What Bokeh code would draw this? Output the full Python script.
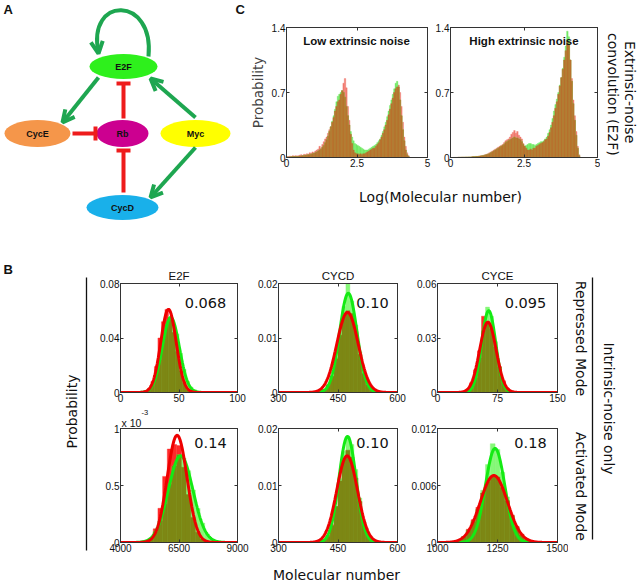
import numpy as np
from bokeh.plotting import figure
from bokeh.layouts import row, column
from bokeh.models import (Range1d, FixedTicker, Label, Arrow, OpenHead, TeeHead, ColumnDataSource, Title,
                          LinearAxis)
from bokeh.core.properties import value
from bokeh.embed import file_html
from bokeh.resources import INLINE

SC = 1.0
def S(v): return int(round(v * SC))
def F(v): return f"{v * SC:.1f}px"

ARIAL = "Liberation Sans"
VERD = "DejaVu Sans"

# ---------------- Panel A: network ----------------
node_names = ["E2F", "CycE", "Rb", "Myc", "CycD"]
node_x = [123, 37, 122, 195, 122]
node_y = [66, 133, 133, 133, 207]
node_w = [68, 66, 52, 70, 72]
node_h = [25, 27, 27, 27, 25]
node_colors = ["#2ef01c", "#f5964a", "#cc0090", "#ffff00", "#19b0ea"]
act_x0 = [98, 195, 195]; act_y0 = [77, 117, 147]
act_x1 = [62, 150, 150]; act_y1 = [122, 78, 197]
inh_x0 = [123, 72, 123]; inh_y0 = [118, 133, 192]
inh_x1 = [123, 95, 123]; inh_y1 = [83, 133, 150]
loop_pts = [148, 56, 154, -5, 86, -5, 98, 52]   # x0,y0,cx0,cy0,cx1,cy1,x1,y1
GREEN_A = "#1ea650"
RED_A = "#ee1c1c"

# ---------------- Panel C: histograms (bins of 0.05 from 0) ----------------
c_bin_start, c_bin_w = 0.0, 0.05
c_low_red = [.01,.01,.015,.01,.02,.015,.02,.015,.02,.025,
             .03,.02,.035,.03,.04,.035,.05,.045,.06,.05,
             .07,.08,.09,.12,.10,.14,.17,.20,.22,.26,
             .30,.33,.38,.43,.50,.55,.60,.62,.68,.72,
             .80,.85,.75,.55,.40,.25,.15,.08,.05,.04,
             .04,.03,.04,.03,.04,.04,.05,.06,.07,.08,
             .09,.10,.10,.12,.14,.16,.19,.22,.26,.30,
             .35,.40,.46,.52,.58,.64,.70,.74,.76,.78,
             .70,.55,.38,.22,.12,.05,.02,0,0,0,
             0,0,0,0,0,0,0,0,0,0]
c_low_green = [.005,.005,.005,.008,.01,.01,.01,.012,.01,.015,
               .015,.02,.02,.025,.025,.03,.03,.035,.04,.045,
               .05,.06,.07,.08,.09,.11,.13,.16,.19,.23,
               .28,.33,.39,.45,.52,.60,.66,.68,.70,.72,
               .70,.65,.55,.45,.35,.28,.22,.18,.15,.14,
               .13,.12,.11,.10,.09,.08,.08,.08,.09,.10,
               .11,.12,.13,.14,.16,.18,.20,.24,.28,.33,
               .38,.44,.50,.56,.62,.68,.74,.80,.82,.76,
               .62,.45,.30,.18,.08,.03,.01,0,0,0,
               0,0,0,0,0,0,0,0,0,0]
c_high_red = [0,0,.002,0,.002,.003,.002,.003,.004,.003,
              .005,.004,.006,.005,.008,.01,.008,.012,.01,.015,
              .018,.02,.025,.03,.035,.04,.05,.06,.07,.08,
              .09,.10,.11,.12,.13,.14,.16,.18,.19,.20,
              .22,.25,.27,.29,.26,.28,.24,.22,.20,.15,
              .12,.10,.08,.08,.09,.08,.10,.10,.12,.13,
              .14,.15,.16,.17,.19,.20,.23,.27,.32,.38,
              .45,.53,.60,.68,.77,.86,.95,1.05,1.15,1.25,
              1.22,1.05,.85,.62,.45,.28,.12,.03,0,0,
              0,0,0,0,0,0,0,0,0,0]
c_high_green = [0,0,0,.002,0,.002,.002,.003,.003,.004,
                .004,.005,.005,.006,.006,.008,.01,.01,.012,.013,
                .015,.018,.02,.025,.03,.035,.04,.05,.06,.07,
                .08,.09,.10,.11,.12,.13,.14,.16,.17,.18,
                .19,.20,.21,.22,.21,.21,.20,.19,.17,.14,
                .12,.13,.14,.15,.15,.14,.14,.13,.14,.15,
                .16,.17,.17,.18,.20,.22,.26,.30,.35,.42,
                .50,.57,.63,.70,.78,.86,.96,1.08,1.20,1.36,
                1.30,1.05,.82,.58,.40,.24,.10,.02,0,0,
                0,0,0,0,0,0,0,0,0,0]
c_titles = ["Low extrinsic noise", "High extrinsic noise"]
c_xticks = [0, 2.5, 5]; c_xlabels = ["0", "2.5", "5"]
c_yticks = [0, 0.7, 1.4]; c_ylabels = ["0", "0.7", "1.4"]
C_GREEN, C_RED, C_BOTH = "#72ea66", "#f07a6e", "#b9732f"

# ---------------- Panel B: histograms + normal fits ----------------
b_col_titles = ["E2F", "CYCD", "CYCE"]
b_cv = [["0.068", "0.10", "0.095"], ["0.14", "0.10", "0.18"]]

e2f_rep_bins = (20, 3)
e2f_rep_green = [0.001,0.002,0.006,0.013,0.024,0.038,0.050,0.056,0.050,0.043,0.029,0.017,0.008,0.004,0.002,0.0005]
e2f_rep_red = [0.001,0.003,0.008,0.019,0.040,0.052,0.061,0.055,0.044,0.030,0.016,0.007,0.002,0.001,0,0]
e2f_rep_fit_green = (43, 7.3, 0.055)   # mean, sd, peak
e2f_rep_fit_red = (41, 6.6, 0.061)

cycd_rep_bins = (400, 10)
cycd_rep_green = [0.0002,0.0005,0.0012,0.003,0.0065,0.0112,0.0158,0.0205,0.0168,0.0124,0.0075,0.0037,0.0014,0.0005,0.0001,0]
cycd_rep_red = [0.0002,0.0006,0.0014,0.003,0.0062,0.0105,0.0140,0.0150,0.0145,0.0112,0.0070,0.0035,0.0014,0.0005,0.0001,0]
cycd_rep_fit_green = (476, 22, 0.0182)
cycd_rep_fit_red = (474, 27, 0.0147)

cyce_rep_bins = (30, 5)
cyce_rep_green = [0,0.0005,0.0024,0.008,0.019,0.034,0.047,0.042,0.028,0.014,0.005,0.0013,0.0002,0,0]
cyce_rep_red = [0.0005,0.0018,0.0053,0.0125,0.023,0.042,0.039,0.035,0.025,0.0143,0.0065,0.0023,0.0006,0.0001,0]
cyce_rep_fit_green = (64, 8.8, 0.045)
cyce_rep_fit_red = (63, 10.3, 0.0387)

e2f_act_bins = (5000, 200)          # y in units of 1e-3
e2f_act_green = [0.015,0.04,0.095,0.19,0.34,0.51,0.67,0.77,0.74,0.63,0.46,0.30,0.17,0.075,0.03,0.011,0.003]
e2f_act_red = [0.01,0.03,0.12,0.30,0.58,0.82,0.86,0.85,0.66,0.42,0.22,0.09,0.03,0.01,0,0,0]
e2f_act_fit_green = (6570, 525, 0.76)
e2f_act_fit_red = (6420, 424, 0.94)

cycd_act_bins = (400, 10)
cycd_act_green = [0.0001,0.0004,0.0011,0.0029,0.0063,0.0112,0.016,0.0186,0.0172,0.0128,0.0078,0.0038,0.0015,0.0005,0.0001,0]
cycd_act_red = [0.0002,0.0005,0.0013,0.0031,0.0063,0.0108,0.0148,0.0162,0.0150,0.0113,0.0072,0.0036,0.0014,0.0005,0.0001,0]
cycd_act_fit_green = (474, 21.5, 0.0186)
cycd_act_fit_red = (473, 26, 0.0152)

cyce_act_bins = (1040, 20)
cyce_act_green = [0,0,0.0002,0.0006,0.0013,0.0022,0.0035,0.0055,0.0082,0.0104,0.0098,0.0074,0.0048,0.0028,0.0016,0.0008,0.0003,0.0001,0,0]
cyce_act_red = [0,0,0.0002,0.0006,0.0014,0.0024,0.0037,0.0052,0.0064,0.0070,0.0069,0.0058,0.0044,0.0029,0.0017,0.0009,0.0004,0.0001,0,0]
cyce_act_fit_green = (1240, 40.3, 0.0099)
cyce_act_fit_red = (1235, 56.6, 0.00705)

b_xr = [[(0, 100), (300, 600), (0, 150)], [(4000, 9000), (300, 600), (1000, 1500)]]
b_yr = [[(0, 0.08), (0, 0.02), (0, 0.06)], [(0, 1), (0, 0.02), (0, 0.012)]]
b_xticks = [[[0, 50, 100], [300, 450, 600], [0, 75, 150]], [[4000, 6500, 9000], [300, 450, 600], [1000, 1250, 1500]]]
b_xlabels = [[["0", "50", "100"], ["300", "450", "600"], ["0", "75", "150"]],
             [["4000", "6500", "9000"], ["300", "450", "600"], ["1000", "1250", "1500"]]]
b_yticks = [[[0, 0.04, 0.08], [0, 0.01, 0.02], [0, 0.03, 0.06]], [[0, 0.5, 1], [0, 0.01, 0.02], [0, 0.006, 0.012]]]
b_ylabels = [[["0", "0.04", "0.08"], ["0", "0.01", "0.02"], ["0", "0.03", "0.06"]],
             [["0", "0.5", "1"], ["0", "0.01", "0.02"], ["0", "0.006", "0.012"]]]
b_data = [[(e2f_rep_bins, e2f_rep_green, e2f_rep_red, e2f_rep_fit_green, e2f_rep_fit_red),
           (cycd_rep_bins, cycd_rep_green, cycd_rep_red, cycd_rep_fit_green, cycd_rep_fit_red),
           (cyce_rep_bins, cyce_rep_green, cyce_rep_red, cyce_rep_fit_green, cyce_rep_fit_red)],
          [(e2f_act_bins, e2f_act_green, e2f_act_red, e2f_act_fit_green, e2f_act_fit_red),
           (cycd_act_bins, cycd_act_green, cycd_act_red, cycd_act_fit_green, cycd_act_fit_red),
           (cyce_act_bins, cyce_act_green, cyce_act_red, cyce_act_fit_green, cyce_act_fit_red)]]
B_GREEN, B_RED, B_BOTH = "#86f878", "#ff2a2a", "#7d8714"
FIT_GREEN, FIT_RED = "#14ea14", "#ee0000"

# ---------------- helpers ----------------
def blank(box):
    x0, y0, x1, y1 = box
    p = figure(width=S(x1) - S(x0), height=S(y1) - S(y0), x_range=Range1d(x0, x1), y_range=Range1d(y1, y0),
               x_axis_type=None, y_axis_type=None, min_border=0, toolbar_location=None,
               output_backend="svg", outline_line_color=None)
    return p

def txt(p, x, y, t, size, font=VERD, style="normal", angle=0.0, align="center"):
    p.text(x=[x], y=[y], text=[t], angle=angle, text_align=align, text_baseline="middle",
           text_font=value(font), text_font_size=value(F(size)), text_font_style=style, text_color="#111")

def style_axis(ax):
    ax.major_tick_in = 3
    ax.major_tick_out = 0
    ax.minor_tick_line_color = None
    ax.axis_line_color = "#333"
    ax.major_tick_line_color = "#333"
    ax.major_label_text_font = ARIAL
    ax.major_label_text_font_size = F(10)
    ax.major_label_text_color = "#111"
    ax.major_label_standoff = 1

def subplot(box, frame, xr, yr, xt, xl, yt, yl):
    bx0, by0, bx1, by1 = box
    fx0, fy0, fx1, fy1 = frame
    p = figure(width=S(bx1) - S(bx0), height=S(by1) - S(by0), x_range=Range1d(*xr), y_range=Range1d(*yr),
               toolbar_location=None, output_backend="svg",
               min_border_left=S(fx0) - S(bx0), min_border_right=S(bx1) - S(fx1),
               min_border_top=S(fy0) - S(by0), min_border_bottom=S(by1) - S(fy1))
    p.grid.visible = False
    p.outline_line_color = "#333"
    p.xaxis.ticker = FixedTicker(ticks=xt)
    p.yaxis.ticker = FixedTicker(ticks=yt)
    p.xaxis.major_label_overrides = {t: l for t, l in zip(xt, xl)}
    p.yaxis.major_label_overrides = {t: l for t, l in zip(yt, yl)}
    for ax in p.axis:
        style_axis(ax)
    # mirrored inside ticks on the right and top edges (no labels)
    rax = LinearAxis(ticker=FixedTicker(ticks=yt), major_label_overrides={t: "" for t in yt})
    tax = LinearAxis(ticker=FixedTicker(ticks=xt), major_label_overrides={t: "" for t in xt})
    for ax in (rax, tax):
        style_axis(ax)
        ax.major_label_text_font_size = "1px"
        ax.major_label_standoff = 0
    p.add_layout(rax, "right")
    p.add_layout(tax, "above")
    return p

def to_data(frame, xr, yr, px, py):
    fx0, fy0, fx1, fy1 = frame
    x = xr[0] + (px - fx0) / (fx1 - fx0) * (xr[1] - xr[0])
    y = yr[0] + (fy1 - py) / (fy1 - fy0) * (yr[1] - yr[0])
    return x, y

def label(p, frame, xr, yr, px, py, t, size, font=VERD, style="normal", align="center"):
    x, y = to_data(frame, xr, yr, px, py)
    p.add_layout(Label(x=x, y=y, text=t, text_align=align, text_baseline="middle", text_font=font,
                       text_font_size=F(size), text_font_style=style, text_color="#111"))

def hist_layers(p, start, w, green, red, cg, cr, cb):
    n = len(green)
    left = [start + i * w for i in range(n)]
    right = [l + w for l in left]
    both = [min(g, r) for g, r in zip(green, red)]
    for top, col in ((red, cr), (green, cg), (both, cb)):
        p.quad(left=left, right=right, bottom=0, top=top, fill_color=col, line_color=col, line_width=0.4)

def fit_line(p, xr, fit, col):
    mu, sd, pk = fit
    xs = np.linspace(xr[0], xr[1], 400)
    ys = pk * np.exp(-0.5 * ((xs - mu) / sd) ** 2)
    p.line(xs, ys, line_color=col, line_width=3)

def style_title(t, size, align, standoff, offset=0):
    t.align = align
    t.offset = offset
    t.text_font = ARIAL
    t.text_font_style = "normal"
    t.text_font_size = F(size)
    t.text_color = "#111"
    t.standoff = standoff

# ---------------- Panel A figure ----------------
figA = blank((0, 0, 246, 262))
x0, y0, cx0, cy0, cx1, cy1, x1, y1 = loop_pts
figA.bezier(x0=[x0], y0=[y0], cx0=[cx0], cy0=[cy0], cx1=[cx1], cy1=[cy1], x1=[x1], y1=[y1],
            line_color=GREEN_A, line_width=4)
figA.add_layout(Arrow(x_start=x1 - 1, y_start=y1 - 6, x_end=x1, y_end=y1 + 1, line_color=GREEN_A, line_width=4,
                      end=OpenHead(size=12, line_color=GREEN_A, line_width=4)))
figA.add_layout(Arrow(x_start="x0", y_start="y0", x_end="x1", y_end="y1", line_color=GREEN_A, line_width=4,
                      source=ColumnDataSource(dict(x0=act_x0, y0=act_y0, x1=act_x1, y1=act_y1)),
                      end=OpenHead(size=12, line_color=GREEN_A, line_width=4)))
figA.add_layout(Arrow(x_start="x0", y_start="y0", x_end="x1", y_end="y1", line_color=RED_A, line_width=4,
                      source=ColumnDataSource(dict(x0=inh_x0, y0=inh_y0, x1=inh_x1, y1=inh_y1)),
                      end=TeeHead(size=14, line_color=RED_A, line_width=4)))
figA.ellipse(x=node_x, y=node_y, width=node_w, height=node_h, fill_color=node_colors, line_color=None)
figA.text(x=node_x, y=node_y, text=node_names, text_align="center", text_baseline="middle",
          text_font=value(ARIAL), text_font_style="bold", text_font_size=value(F(9)), text_color="#111")
txt(figA, 3, 9, "A", 13, font=ARIAL, style="bold", align="left")
txt(figA, 235, 9, "C", 13, font=ARIAL, style="bold", align="left")

# ---------------- Panel C figures ----------------
c_boxes = [(246, 0, 432, 175), (432, 0, 600, 175)]
c_frames = [(280, 27, 427, 157), (447, 27, 597, 157)]
c_series = [(c_low_green, c_low_red), (c_high_green, c_high_red)]
c_title_px = [(353, 40), (522, 40)]
c_figs = []
for i in range(2):
    p = subplot(c_boxes[i], c_frames[i], (0, 5), (0, 1.4), c_xticks, c_xlabels, c_yticks, c_ylabels)
    g, r = c_series[i]
    hist_layers(p, c_bin_start, c_bin_w, g, r, C_GREEN, C_RED, C_BOTH)
    label(p, c_frames[i], (0, 5), (0, 1.4), c_title_px[i][0], c_title_px[i][1], c_titles[i], 11.5,
          font=ARIAL, style="bold")
    c_figs.append(p)
c_figs[0].yaxis[0].axis_label = "Probability"
c_figs[0].yaxis[0].axis_label_text_font = VERD
c_figs[0].yaxis[0].axis_label_text_font_size = F(13.5)
c_figs[0].yaxis[0].axis_label_text_font_style = "normal"
c_figs[0].yaxis[0].axis_label_standoff = 3

figCR = blank((600, 0, 641, 175))
txt(figCR, 629, 87, "Extrinsic-noise", 14, angle=-np.pi / 2)
txt(figCR, 612, 90, "convolution (E2F)", 14, angle=-np.pi / 2)
figCx = blank((246, 175, 641, 262))
txt(figCx, 440, 196, "Log(Molecular number)", 14)

# ---------------- Panel B figures ----------------
b_cols = [(96, 252), (252, 407), (407, 568)]
b_fx = [(120, 237), (278, 397), (437, 557)]
b_rows = [(262, 407), (407, 560)]
b_fy = [(283, 392), (427, 542)]
b_cv_px = [[(205, 302), (372, 302), (525, 302)], [(210, 442), (372, 442), (530, 442)]]
b_figs = [[], []]
for r in range(2):
    for c in range(3):
        box = (b_cols[c][0], b_rows[r][0], b_cols[c][1], b_rows[r][1])
        frame = (b_fx[c][0], b_fy[r][0], b_fx[c][1], b_fy[r][1])
        xr, yr = b_xr[r][c], b_yr[r][c]
        p = subplot(box, frame, xr, yr, b_xticks[r][c], b_xlabels[r][c], b_yticks[r][c], b_ylabels[r][c])
        (start, w), g, rd, fg, fr = b_data[r][c]
        hist_layers(p, start, w, g, rd, B_GREEN, B_RED, B_BOTH)
        fit_line(p, xr, fg, FIT_GREEN)
        fit_line(p, xr, fr, FIT_RED)
        label(p, frame, xr, yr, b_cv_px[r][c][0], b_cv_px[r][c][1], b_cv[r][c], 14.5)
        if r == 0:
            p.title.text = b_col_titles[c]
            style_title(p.title, 11.5, "center", 4)
        if r == 1 and c == 0:
            # outer title (higher): exponent; inner title (closer to frame): "x 10"
            p.title.text = "-3"
            style_title(p.title, 7.5, "left", 0, offset=S(21))
            inner = Title(text="x 10")
            style_title(inner, 10.5, "left", 0, offset=1)
            p.add_layout(inner, "above")
        b_figs[r].append(p)

figBL = blank((0, 262, 96, 583))
txt(figBL, 3, 269, "B", 13, font=ARIAL, style="bold", align="left")
txt(figBL, 71, 411, "Probability", 14, angle=np.pi / 2)
figBL.segment(x0=[86], y0=[277], x1=[86], y1=[550], line_color="#111", line_width=1.3)

figBR = blank((568, 262, 641, 583))
txt(figBR, 580, 338, "Repressed Mode", 14, angle=-np.pi / 2)
txt(figBR, 580, 486, "Activated Mode", 14, angle=-np.pi / 2)
txt(figBR, 608, 408, "Intrinsic-noise only", 14, angle=-np.pi / 2)
figBR.segment(x0=[592], y0=[277], x1=[592], y1=[539], line_color="#111", line_width=1.3)

figBx = blank((96, 560, 568, 583))
txt(figBx, 336, 574, "Molecular number", 14)

top = row(figA, column(row(c_figs[0], c_figs[1], figCR), figCx))
bottom = row(figBL, column(row(*b_figs[0]), row(*b_figs[1]), figBx), figBR)
page = column(top, bottom)

open("out.html", "w").write(file_html(page, INLINE))
